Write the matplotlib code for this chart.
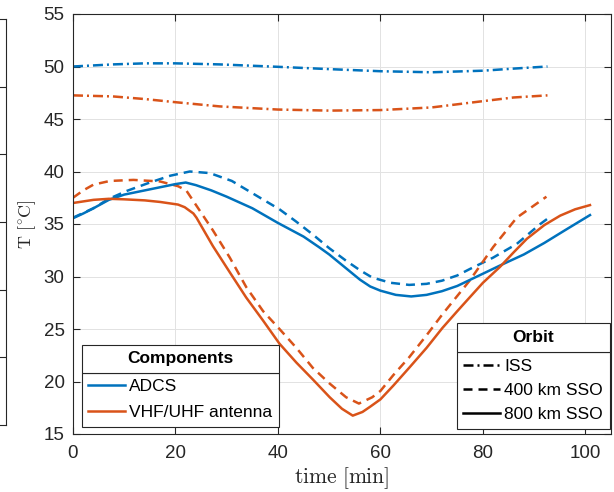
import numpy as np
import matplotlib
matplotlib.use('Agg')
from matplotlib import pyplot as plt
from matplotlib.lines import Line2D
from matplotlib.patches import Rectangle

# ---- data (time in min, temperature in degC) ----
# ISS orbit
t_iss = [0, 7.8, 14, 20, 28.6, 40, 50, 60, 70, 80, 86, 92.6]
adcs_iss = [50.0, 50.2, 50.3, 50.3, 50.2, 49.97, 49.75, 49.55, 49.45, 49.6, 49.8, 50.0]
vhf_iss = [47.25, 47.15, 46.9, 46.6, 46.2, 45.9, 45.8, 45.85, 46.1, 46.7, 47.05, 47.25]

# 400 km SSO
t_adcs_400 = [0, 4, 7, 10.5, 15, 19, 22.8, 26.7, 31, 36.5, 40.3, 43.5, 46.8, 50, 53.3, 56,
              58.4, 62, 65.6, 69, 72, 75, 77.4, 82, 86.6, 91.2, 92.6]
adcs_400 = [35.6, 36.5, 37.4, 38.15, 38.95, 39.6, 40.0, 39.85, 39.1, 37.5, 36.4, 35.25, 34.0,
            32.7, 31.5, 30.6, 29.9, 29.4, 29.2, 29.3, 29.6, 30.1, 30.7, 31.8, 33.1, 35.0, 35.5]
t_vhf_400 = [0, 2, 4, 7.2, 11.8, 17, 20.5, 22.1, 24.7, 27.3, 30.6, 33.8, 37.1, 40.3, 43.6, 46.8,
             50.1, 53.3, 55.8, 58.4, 60, 62.5, 65.6, 69, 72.1, 77.4, 82, 86.6, 92.4]
vhf_400 = [37.5, 38.2, 38.75, 39.1, 39.2, 39.05, 38.6, 38.2, 36.3, 34.4, 31.8, 29.0, 26.7, 25.0,
           23.2, 21.3, 19.8, 18.5, 17.9, 18.5, 19.1, 20.6, 22.3, 24.4, 26.4, 29.6, 32.8, 35.6, 37.6]

# 800 km SSO
t_adcs_800 = [0, 2, 4, 7, 10, 14, 17, 20, 22, 24, 27, 30, 35, 40, 45, 48, 50, 53, 56, 58, 60,
              63, 66, 69, 72, 75, 78, 81, 84, 88, 92, 96, 100.9]
adcs_800 = [35.55, 36.0, 36.5, 37.3, 37.8, 38.2, 38.5, 38.8, 38.95, 38.7, 38.2, 37.6, 36.5, 35.1,
            33.8, 32.8, 32.1, 30.9, 29.7, 29.05, 28.65, 28.25, 28.1, 28.25, 28.6, 29.1, 29.8,
            30.5, 31.2, 32.1, 33.2, 34.4, 35.85]
t_vhf_800 = [0, 4, 7, 10, 14, 17, 20.5, 21.8, 23.5, 24.1, 27.3, 30.6, 33.8, 37.1, 40.3, 43.6,
             46.8, 50.1, 52.5, 54.6, 56.5, 58, 60, 62.5, 65.6, 69, 72.1, 75, 77.4, 80, 83.3, 86,
             88.6, 92, 95.1, 98, 100.9]
vhf_800 = [37.0, 37.3, 37.4, 37.35, 37.25, 37.1, 36.85, 36.6, 36.0, 35.6, 32.9, 30.4, 28.0, 25.8,
           23.6, 21.8, 20.2, 18.5, 17.4, 16.75, 17.1, 17.6, 18.3, 19.6, 21.3, 23.2, 25.1, 26.7,
           28.0, 29.4, 30.9, 32.3, 33.6, 34.9, 35.8, 36.4, 36.8]

component_labels = ['ADCS', 'VHF/UHF antenna']
orbit_labels = ['ISS', '400 km SSO', '800 km SSO']
xticks = [0, 20, 40, 60, 80, 100]
yticks = [15, 20, 25, 30, 35, 40, 45, 50, 55]

# ---- style ----
plt.rcParams['font.family'] = ['Liberation Sans', 'DejaVu Sans']
plt.rcParams['mathtext.fontset'] = 'cm'

blue = '#0072BD'
orange = '#D95319'
dark = '#262626'
lw = 1.8
ls_iss = (0, (4.0, 1.6, 0.8, 1.6))
ls_400 = (0, (3.6, 2.4))
ls_800 = '-'

W, H = 614, 492
fig = plt.figure(figsize=(W / 100, H / 100), dpi=100)

# cropped neighbour panel on the far left
axn = fig.add_axes([-0.3, 67 / H, 0.3 + 6 / W, 406 / H])
axn.set_ylim(0, 6)
axn.set_xlim(0, 1)
axn.set_yticks([1, 2, 3, 4, 5])
axn.set_xticks([])
axn.yaxis.tick_right()
axn.tick_params(axis='y', direction='in', length=5, labelright=False, color=dark, width=0.8)
for s in axn.spines.values():
    s.set_color(dark)
    s.set_linewidth(0.8)

ax = fig.add_axes([73 / W, 58 / H, 538 / W, 420 / H])
ax.plot(t_iss, adcs_iss, color=blue, lw=lw, ls=ls_iss)
ax.plot(t_iss, vhf_iss, color=orange, lw=lw, ls=ls_iss)
ax.plot(t_adcs_400, adcs_400, color=blue, lw=lw, ls=ls_400)
ax.plot(t_vhf_400, vhf_400, color=orange, lw=lw, ls=ls_400)
ax.plot(t_adcs_800, adcs_800, color=blue, lw=lw, ls=ls_800)
ax.plot(t_vhf_800, vhf_800, color=orange, lw=lw, ls=ls_800)

ax.set_xlim(0, 105)
ax.set_ylim(15, 55)
ax.set_xticks(xticks)
ax.set_yticks(yticks)
ax.grid(True, color='#e2e2e2', lw=0.7)
ax.set_axisbelow(True)
ax.tick_params(direction='in', length=5, width=0.8, color=dark, labelcolor=dark,
               labelsize=13.5, top=True, right=True)
ax.tick_params(axis='x', pad=8)
ax.tick_params(axis='y', pad=6)
for s in ax.spines.values():
    s.set_color(dark)
    s.set_linewidth(0.8)

ax.set_xlabel(r'$\mathrm{time\ [min]}$', fontsize=15.5, color=dark, labelpad=2)
ax.set_ylabel(r'$\mathrm{T\ [^{\circ}C]}$', fontsize=13, color=dark, labelpad=4)


def boxed_legend(handles, labels, loc, anchor, spacing):
    leg = ax.legend(handles, labels, loc=loc, bbox_to_anchor=anchor, borderaxespad=0,
                    fontsize=12.5, handlelength=2.1, handletextpad=0.25, borderpad=0.38,
                    labelspacing=spacing, fancybox=False, framealpha=1, edgecolor=dark)
    leg.get_frame().set_linewidth(0.8)
    return leg


comp_handles = [Line2D([], [], color=blue, lw=lw), Line2D([], [], color=orange, lw=lw)]
orbit_handles = [Line2D([], [], color='k', lw=lw, ls=ls_iss),
                 Line2D([], [], color='k', lw=lw, ls=ls_400),
                 Line2D([], [], color='k', lw=lw, ls=ls_800)]

leg1 = boxed_legend(comp_handles, component_labels, 'lower left',
                    ((81.7 - 73) / 538, (434 - 427) / 420), 0.62)
ax.add_artist(leg1)
leg2 = boxed_legend(orbit_handles, orbit_labels, 'lower right',
                    ((609.5 - 73) / 538, (434 - 429) / 420), 0.52)

# title boxes on top of the legends (MATLAB style)
fig.canvas.draw()
for leg, title, th in [(leg1, 'Components', 28), (leg2, 'Orbit', 29.5)]:
    bb = leg.get_frame().get_window_extent()
    rect = Rectangle((bb.x0 / W, bb.y1 / H), bb.width / W, th / H, transform=fig.transFigure,
                     facecolor='white', edgecolor=dark, lw=0.8, zorder=10)
    fig.add_artist(rect)
    fig.text((bb.x0 + bb.x1) / 2 / W, (bb.y1 + th / 2) / H, title, ha='center', va='center',
             fontsize=12.5, fontweight='bold', color='k', zorder=11)

fig.savefig('out.png', dpi=100)
